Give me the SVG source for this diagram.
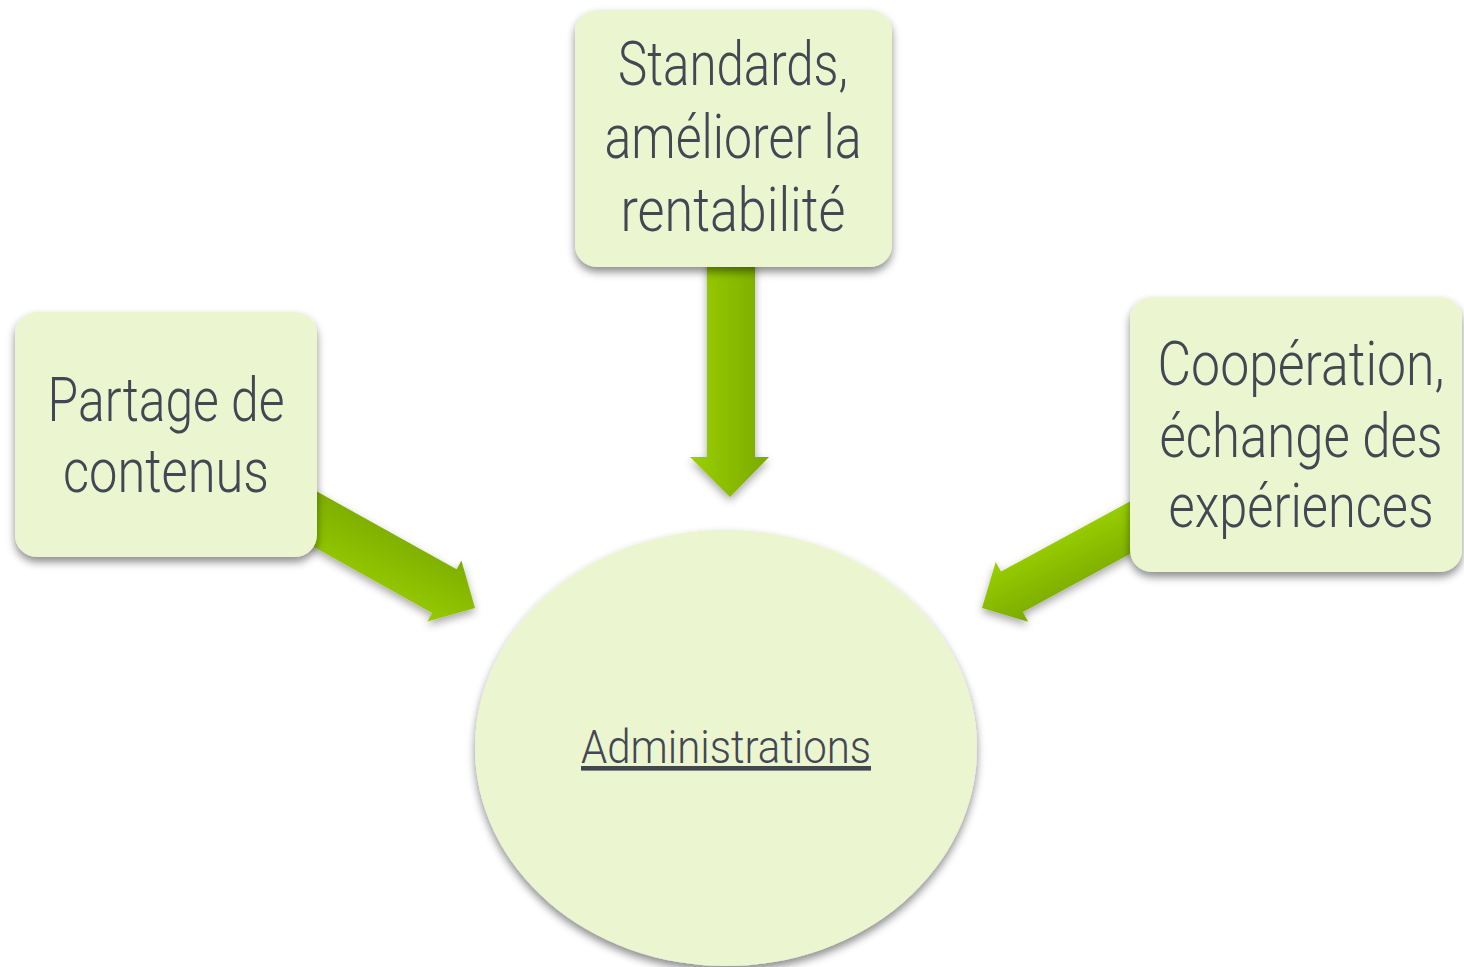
<svg xmlns="http://www.w3.org/2000/svg" width="1464" height="967" viewBox="0 0 1464 967">
<defs>
<style>
.node{fill:#ebf5d0;filter:url(#sh);}
.lbl{font-family:Roboto,"Liberation Sans Narrow",sans-serif;font-weight:300;font-size:62px;fill:#434753;text-anchor:middle;}
.adm{font-family:Roboto,"Liberation Sans Narrow",sans-serif;font-weight:300;font-size:46px;fill:#434753;text-anchor:middle;text-decoration:underline;}
.arr{filter:url(#ash);}
</style>
<filter id="sh" x="-20%" y="-20%" width="140%" height="140%">
<feDropShadow dx="0" dy="5" stdDeviation="4" flood-color="#000" flood-opacity="0.45"/>
</filter>
<filter id="ash" x="-30%" y="-30%" width="160%" height="160%">
<feDropShadow dx="0" dy="4" stdDeviation="4" flood-color="#000" flood-opacity="0.35"/>
</filter>
<linearGradient id="gv" x1="0" y1="0" x2="1" y2="0">
<stop offset="0" stop-color="#9ad000"/>
<stop offset="1" stop-color="#7aaa00"/>
</linearGradient>
<linearGradient id="gl" gradientUnits="userSpaceOnUse" x1="400" y1="620" x2="440" y2="540">
<stop offset="0" stop-color="#9ad000"/>
<stop offset="1" stop-color="#7aaa00"/>
</linearGradient>
<linearGradient id="gr" gradientUnits="userSpaceOnUse" x1="1040" y1="540" x2="1070" y2="600">
<stop offset="0" stop-color="#9ad000"/>
<stop offset="1" stop-color="#7aaa00"/>
</linearGradient>
</defs>
<rect width="1464" height="967" fill="#ffffff"/>
<g id="connectors">
<polygon class="arr" fill="url(#gv)" points="707,260 755,260 755,457 769,457 730,497 690,457 707,457"/>
<polygon class="arr" fill="url(#gl)" points="288,532.6 312.4,489 456.6,569.2 461.4,560.4 475,608 427.4,621.6 432.2,612.9"/>
<polygon class="arr" fill="url(#gr)" points="1132.7,500 1154.7,540.4 1022.9,612 1028.1,621.7 982,608 995.7,561.9 1001,571.6"/>
</g>
<g id="node-top">
<rect class="node" x="575" y="10" width="317" height="257" rx="22"/>
<text class="lbl" x="733" y="85" textLength="230" lengthAdjust="spacingAndGlyphs">Standards,</text>
<text class="lbl" x="733" y="158" textLength="257" lengthAdjust="spacingAndGlyphs">améliorer la</text>
<text class="lbl" x="733" y="231" textLength="225" lengthAdjust="spacingAndGlyphs">rentabilité</text>
</g>
<g id="node-left">
<rect class="node" x="15" y="312" width="302" height="245" rx="22"/>
<text class="lbl" x="166" y="421" textLength="237" lengthAdjust="spacingAndGlyphs">Partage de</text>
<text class="lbl" x="166" y="492" textLength="206" lengthAdjust="spacingAndGlyphs">contenus</text>
</g>
<g id="node-right">
<rect class="node" x="1130" y="297" width="332" height="275" rx="22"/>
<text class="lbl" x="1301" y="385" textLength="287" lengthAdjust="spacingAndGlyphs">Coopération,</text>
<text class="lbl" x="1301" y="457" textLength="283" lengthAdjust="spacingAndGlyphs">échange des</text>
<text class="lbl" x="1301" y="527" textLength="265" lengthAdjust="spacingAndGlyphs">expériences</text>
</g>
<g id="node-center">
<ellipse class="node" cx="726" cy="748" rx="251" ry="218"/>
<text class="adm" x="726" y="763" textLength="290" lengthAdjust="spacingAndGlyphs">Administrations</text>
</g>
</svg>
